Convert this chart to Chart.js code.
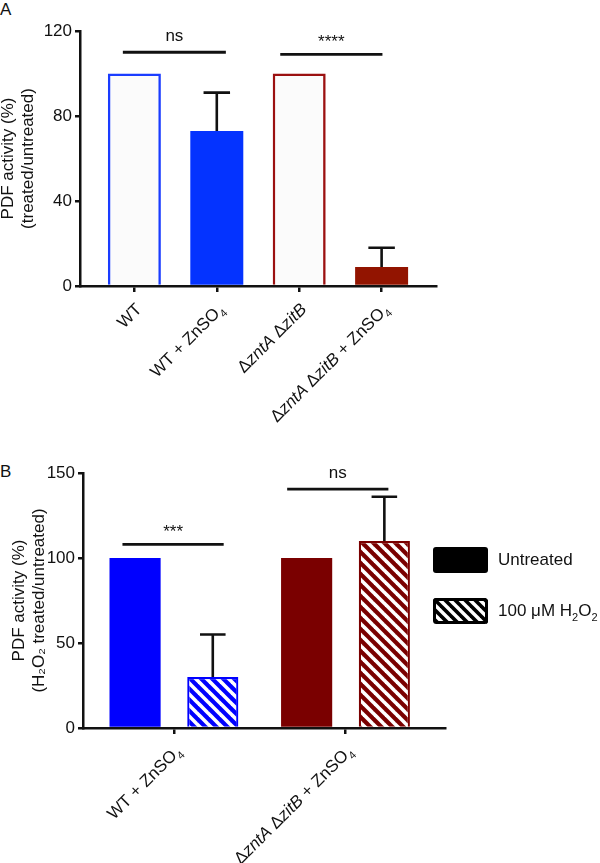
<!DOCTYPE html>
<html><head><meta charset="utf-8">
<script src="https://cdn.jsdelivr.net/npm/chart.js@4.4.1/dist/chart.umd.min.js"></script>
<style>
html,body{margin:0;padding:0;background:#fff;}
body{width:600px;height:863px;position:relative;overflow:hidden;font-family:"Liberation Sans",Arial,sans-serif;}
canvas{position:absolute;left:0;}
#cA{top:0;} #cB{top:450px;}
.pl{position:absolute;left:0;font-size:17px;line-height:17px;color:#111;}
</style></head><body>
<div class="pl" style="top:1px">A</div>
<div class="pl" style="top:463px">B</div>
<canvas id="cA" width="600" height="450"></canvas>
<canvas id="cB" width="600" height="413"></canvas>
<script>
// ---------- Panel A data ----------
const categoriesA = ['WT', 'WT + ZnSO₄', 'ΔzntA ΔzitB', 'ΔzntA ΔzitB + ZnSO₄'];
const valuesA = [100, 73, 100, 9];
const errorsA = [0, 18, 0, 9];
const yTicksA = [0, 40, 80, 120];
const sigLabelsA = ['ns', '****'];
const sigLevelsA = [110, 109];

// ---------- Panel B data ----------
const categoriesB = ['WT + ZnSO₄', 'ΔzntA ΔzitB + ZnSO₄'];
const seriesNamesB = ['Untreated', '100 μM H₂O₂'];
const untreatedB = [100, 100];
const treatedB = [30, 110];
const untreatedErrB = [0, 0];
const treatedErrB = [25, 26];
const yTicksB = [0, 50, 100, 150];
const sigLabelsB = ['***', 'ns'];
const sigLevelsB = [108, 140.5];

// ---------- helpers ----------
const FONT = '"Liberation Sans", Arial, sans-serif';
const INK = '#111';
const SUBMAP = {'₀':'0','₁':'1','₂':'2','₃':'3','₄':'4','₅':'5','₆':'6','₇':'7','₈':'8','₉':'9'};

function hatch(color, size, lw) {
  const c = document.createElement('canvas');
  c.width = c.height = size;
  const x = c.getContext('2d');
  x.fillStyle = color; x.fillRect(0, 0, size, size);
  x.strokeStyle = '#fff'; x.lineWidth = lw;
  for (let k = -1; k <= 1; k++) {
    x.beginPath(); x.moveTo(-2, k * size - 2); x.lineTo(size + 2, size + k * size + 2); x.stroke();
  }
  return x.createPattern(c, 'repeat');
}

function runsOf(text) {
  return text.split(/(zntA|zitB|[₀-₉]+)/).filter(s => s).map(p => {
    if (/^[₀-₉]+$/.test(p)) return {t: p.replace(/[₀-₉]/g, c => SUBMAP[c]), sub: true};
    if (/^(zntA|zitB)$/.test(p)) return {t: p, it: true};
    return {t: p};
  });
}
function runFont(r, size) {
  return (r.it ? 'italic ' : '') + (r.sub ? Math.round(size * 0.62) : size) + 'px ' + FONT;
}
function drawRuns(ctx, text, x, y, size, align) {
  const runs = runsOf(text);
  let w = 0;
  runs.forEach(r => { ctx.font = runFont(r, size); r.w = ctx.measureText(r.t).width; w += r.w; });
  let cx = align === 'right' ? x - w : x;
  ctx.textAlign = 'left'; ctx.textBaseline = 'alphabetic';
  runs.forEach(r => { ctx.font = runFont(r, size); ctx.fillText(r.t, cx, y + (r.sub ? size * 0.28 : 0)); cx += r.w; });
}

// ---------- plugins ----------
const xLabelPlugin = {
  id: 'xLabels',
  afterDraw(chart, args, opts) {
    const xs = chart.scales.x, ctx = chart.ctx;
    ctx.save(); ctx.fillStyle = INK;
    opts.labels.forEach((lab, i) => {
      const px = xs.getPixelForValue(i) + 4, py = xs.top + 20;
      ctx.save(); ctx.translate(px, py); ctx.rotate(-Math.PI / 4);
      drawRuns(ctx, lab, 0, 17 * 0.35, 17, 'right');
      ctx.restore();
    });
    ctx.restore();
  }
};

const errorBarPlugin = {
  id: 'errorBars',
  afterDatasetsDraw(chart) {
    const ctx = chart.ctx, ys = chart.scales.y;
    ctx.save(); ctx.strokeStyle = INK; ctx.lineWidth = 2.6; ctx.lineCap = 'butt';
    chart.data.datasets.forEach((ds, di) => {
      if (!ds.errors) return;
      const meta = chart.getDatasetMeta(di);
      meta.data.forEach((bar, i) => {
        const e = ds.errors[i];
        if (!e) return;
        const yTop = ys.getPixelForValue(ds.data[i].y + e);
        const half = bar.width / 4;
        ctx.beginPath();
        ctx.moveTo(bar.x, bar.y); ctx.lineTo(bar.x, yTop);
        ctx.moveTo(bar.x - half, yTop); ctx.lineTo(bar.x + half, yTop);
        ctx.stroke();
      });
    });
    ctx.restore();
  }
};

const sigPlugin = {
  id: 'sig',
  afterDatasetsDraw(chart, args, opts) {
    const ctx = chart.ctx, xs = chart.scales.x, ys = chart.scales.y;
    ctx.save(); ctx.strokeStyle = INK; ctx.fillStyle = INK; ctx.lineWidth = 2.8;
    opts.labels.forEach((lab, i) => {
      const y = ys.getPixelForValue(opts.levels[i]);
      const x0 = xs.getPixelForValue(opts.spans[i][0]), x1 = xs.getPixelForValue(opts.spans[i][1]);
      ctx.beginPath(); ctx.moveTo(x0, y); ctx.lineTo(x1, y); ctx.stroke();
      ctx.font = '17px ' + FONT; ctx.textAlign = 'center'; ctx.textBaseline = 'alphabetic';
      const m = ctx.measureText(lab);
      const cy = y - 16;
      ctx.fillText(lab, (x0 + x1) / 2, cy + (m.actualBoundingBoxAscent - m.actualBoundingBoxDescent) / 2);
    });
    ctx.restore();
  }
};

const legendPlugin = {
  id: 'boxLegend',
  afterDraw(chart, args, opts) {
    const ctx = chart.ctx, ca = chart.chartArea;
    ctx.save();
    chart.data.datasets.forEach((ds, i) => {
      const bx = ca.right - 12, by = ca.top + 74 + i * 51, bw = 55, bh = 26;
      ctx.beginPath();
      ctx.roundRect(bx, by, bw, bh, 3);
      ctx.fillStyle = ds.legendHatch ? hatch('#000', 10, 3.4) : '#000';
      ctx.fill();
      if (ds.legendHatch) {
        ctx.lineWidth = 3; ctx.strokeStyle = '#000';
        ctx.beginPath(); ctx.roundRect(bx + 1.5, by + 1.5, bw - 3, bh - 3, 2); ctx.stroke();
      }
      ctx.fillStyle = INK;
      drawRuns(ctx, ds.label, bx + 65, by + bh / 2 - 1 + 17 * 0.35, 17, 'left');
    });
    ctx.restore();
  }
};

function axisCommon(tickLen) {
  return {
    offset: false,
    grid: {display: true, offset: false, drawOnChartArea: false, drawTicks: true, tickLength: tickLen, color: INK, lineWidth: 2.5},
    border: {display: true, color: INK, width: 2.5}
  };
}

// ---------- Chart A ----------
new Chart(document.getElementById('cA'), {
  type: 'bar',
  data: {
    datasets: [{
      label: 'PDF activity',
      data: valuesA.map((v, i) => ({x: i, y: v})),
      errors: errorsA,
      backgroundColor: ['#fbfbfb', '#0433ff', '#fbfbfb', '#921400'],
      borderColor: ['#1a3cff', '#0433ff', '#9b1010', '#921400'],
      borderWidth: [2.6, 0, 2.6, 0],
      borderSkipped: 'start',
      barPercentage: 0.643,
      categoryPercentage: 1
    }]
  },
  options: {
    responsive: false, animation: false, devicePixelRatio: 1,
    layout: {padding: {top: 31, right: 164, left: 0, bottom: 0}},
    plugins: {
      legend: {display: false}, tooltip: {enabled: false},
      xLabels: {labels: categoriesA},
      sig: {labels: sigLabelsA, levels: sigLevelsA, spans: [[-0.14, 1.11], [1.77, 3.01]]}
    },
    scales: {
      x: Object.assign({
        type: 'linear', min: -0.66, max: 3.66,
        afterBuildTicks: s => { s.ticks = categoriesA.map((c, i) => ({value: i})); },
        afterFit: s => { s.height = 164; },
        ticks: {display: false}
      }, axisCommon(6)),
      y: Object.assign({
        min: 0, max: 120,
        afterBuildTicks: s => { s.ticks = yTicksA.map(v => ({value: v})); },
        afterFit: s => { s.width = 80; },
        ticks: {font: {family: FONT, size: 17}, color: INK, padding: 3},
        title: {display: true, text: ['PDF activity (%)', '(treated/untreated)'], font: {family: FONT, size: 17}, color: INK, padding: {top: -2, bottom: 0}}
      }, axisCommon(5))
    }
  },
  plugins: [xLabelPlugin, errorBarPlugin, sigPlugin]
});

// ---------- Chart B ----------
new Chart(document.getElementById('cB'), {
  type: 'bar',
  data: {
    datasets: [{
      label: seriesNamesB[0],
      data: untreatedB.map((v, i) => ({x: i, y: v})),
      errors: untreatedErrB,
      backgroundColor: ['#0000ff', '#7a0000'],
      borderWidth: 0,
      barPercentage: 0.658, categoryPercentage: 0.906
    }, {
      label: seriesNamesB[1],
      data: treatedB.map((v, i) => ({x: i, y: v})),
      errors: treatedErrB,
      legendHatch: true,
      backgroundColor: [hatch('#0000ff', 11, 3.6), hatch('#7a0000', 11, 3.6)],
      borderColor: ['#0000ff', '#7a0000'],
      borderWidth: 2.2,
      borderSkipped: 'start',
      barPercentage: 0.658, categoryPercentage: 0.906
    }]
  },
  options: {
    responsive: false, animation: false, devicePixelRatio: 1,
    layout: {padding: {top: 23, right: 155, left: 0, bottom: 0}},
    plugins: {
      legend: {display: false}, tooltip: {enabled: false},
      xLabels: {labels: categoriesB},
      sig: {labels: sigLabelsB, levels: sigLevelsB, spans: [[-0.30, 0.29], [0.66, 1.25]]}
    },
    scales: {
      x: Object.assign({
        type: 'linear', min: -0.53, max: 1.58,
        afterBuildTicks: s => { s.ticks = categoriesB.map((c, i) => ({value: i})); },
        afterFit: s => { s.height = 135; },
        ticks: {display: false}
      }, axisCommon(6)),
      y: Object.assign({
        min: 0, max: 150,
        afterBuildTicks: s => { s.ticks = yTicksB.map(v => ({value: v})); },
        afterFit: s => { s.width = 83; },
        ticks: {font: {family: FONT, size: 17}, color: INK, padding: 3},
        title: {display: true, text: ['PDF activity (%)', '(H₂O₂ treated/untreated)'], font: {family: FONT, size: 17}, color: INK, padding: {top: 9, bottom: 0}}
      }, axisCommon(5))
    }
  },
  plugins: [xLabelPlugin, errorBarPlugin, sigPlugin, legendPlugin]
});
</script>
</body></html>
